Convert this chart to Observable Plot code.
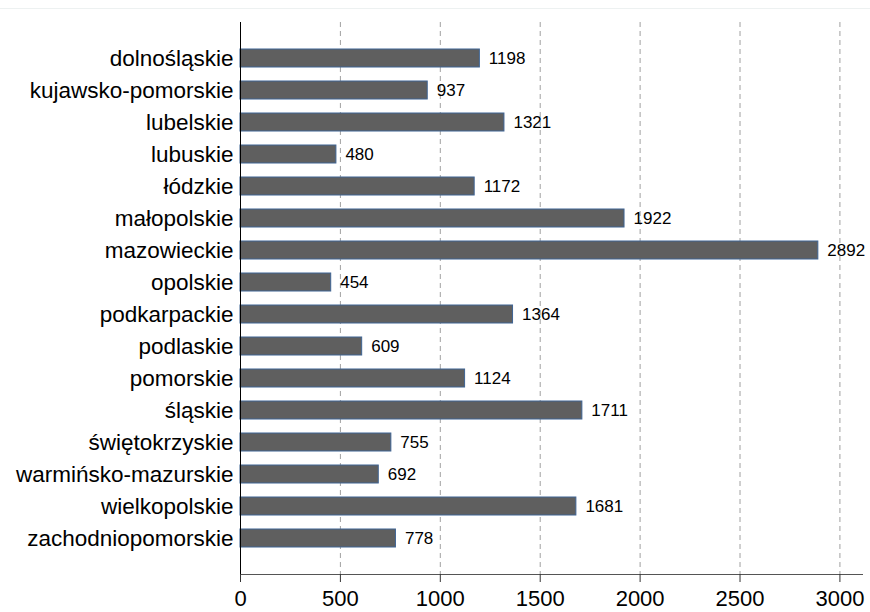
<!DOCTYPE html>
<html>
<head>
<meta charset="utf-8">
<script src="https://cdn.jsdelivr.net/npm/d3@7"></script>
<script src="https://cdn.jsdelivr.net/npm/@observablehq/plot@0.6"></script>
<style>
  html, body { margin: 0; padding: 0; background: #fff; }
  body { width: 870px; height: 612px; overflow: hidden; position: relative; }
  #topline { position: absolute; left: 0; top: 8px; width: 870px; height: 1px; background: #edf1f1; }
  #chart svg { display: block; font-family: "Liberation Sans", Arial, sans-serif; }
</style>
</head>
<body>
<div id="topline"></div>
<div id="chart"></div>
<script>
const regions = [
  "dolnośląskie", "kujawsko-pomorskie", "lubelskie", "lubuskie", "łódzkie",
  "małopolskie", "mazowieckie", "opolskie", "podkarpackie", "podlaskie",
  "pomorskie", "śląskie", "świętokrzyskie", "warmińsko-mazurskie",
  "wielkopolskie", "zachodniopomorskie"
];
const values = [1198, 937, 1321, 480, 1172, 1922, 2892, 454, 1364, 609, 1124, 1711, 755, 692, 1681, 778];
const xTicks = [0, 500, 1000, 1500, 2000, 2500, 3000];
const gridTicks = [500, 1000, 1500, 2000, 2500, 3000];

const data = regions.map((r, i) => ({region: r, value: values[i]}));

const chart = Plot.plot({
  width: 870,
  height: 612,
  marginLeft: 240,
  marginRight: 8,
  marginTop: 22,
  marginBottom: 38,
  style: {fontFamily: "'Liberation Sans', Arial, sans-serif", background: "transparent"},
  x: {domain: [0, 3113], axis: null},
  y: {domain: regions, paddingInner: 0.44, paddingOuter: 0.22, insetTop: 19, insetBottom: 19, axis: null},
  marks: [
    Plot.gridX(gridTicks, {stroke: "#a0a0a0", strokeOpacity: 1, strokeDasharray: "5,4"}),
    Plot.frame({anchor: "bottom", stroke: "#555"}),
    Plot.barX(data, {x: "value", y: "region", fill: "#5f5f5f", stroke: "#3f6494", strokeWidth: 1}),
    Plot.text(data, {x: "value", y: "region", text: d => String(d.value), textAnchor: "start", dx: 9, fontSize: 17, fill: "#000"}),
    Plot.ruleX([0], {stroke: "#000", strokeWidth: 1}),
    Plot.axisY({tickSize: 0, tickPadding: 7, fontSize: 22.5, label: null, color: "#000"}),
    Plot.axisX(xTicks, {tickSize: 8, tickPadding: 8, fontSize: 22, label: null, stroke: "#333", color: "#000", tickFormat: d => String(d)})
  ]
});
document.getElementById("chart").appendChild(chart);
</script>
</body>
</html>
